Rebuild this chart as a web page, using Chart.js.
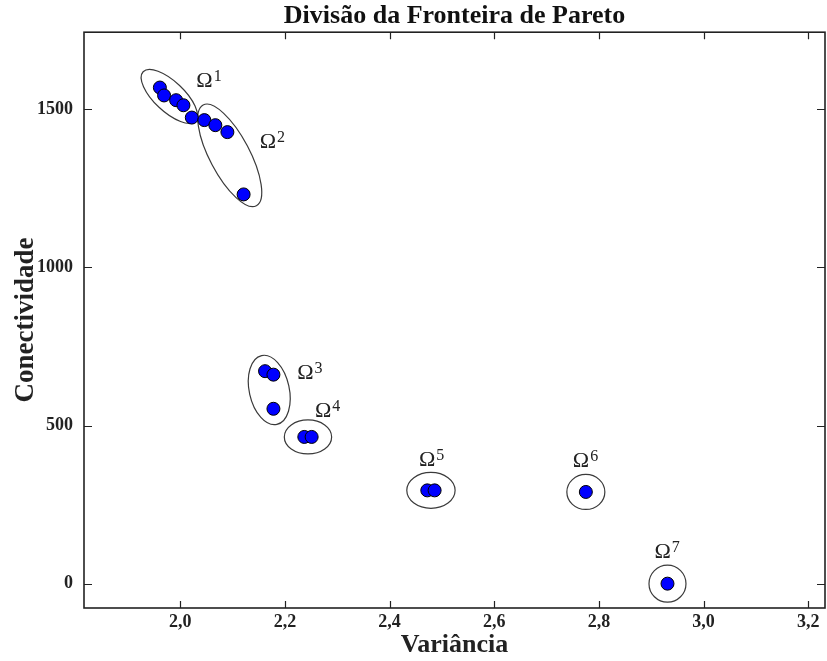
<!DOCTYPE html>
<html>
<head>
<meta charset="utf-8">
<script src="https://cdn.jsdelivr.net/npm/chart.js@4"></script>
<style>
  body { margin: 0; background: #fff; }
</style>
</head>
<body>
<canvas id="myChart" width="827" height="661"></canvas>
<script>
// dados
const variancia = [1.961, 1.969, 1.992, 2.006, 2.022, 2.046, 2.067, 2.090, 2.121,
                   2.162, 2.178, 2.178, 2.237, 2.251, 2.472, 2.486, 2.775, 2.931];
const conectividade = [1569, 1544, 1529, 1513, 1474, 1466, 1450, 1428, 1231,
                       672, 661, 553, 464, 464, 295, 295, 290, 0];
const xTicks = [2.0, 2.2, 2.4, 2.6, 2.8, 3.0, 3.2];
const yTicks = [0, 500, 1000, 1500];

// grupos da fronteira (índices dos pontos)
const grupos = ['1', '2', '3', '4', '5', '6', '7'];
const grupoPontos = [[0, 1, 2, 3, 4], [5, 6, 7, 8], [9, 10, 11], [12, 13], [14, 15], [16], [17]];

// estilo das elipses (pixels): folga no eixo maior, semi-eixo menor, deslocamentos, posição do rótulo
const elipseEstilo = [
    { pad: 14, b: 15, along: -9, side: 0, lx: 27, ly: -9 },
    { pad: 15, b: 20, along: 1, side: -6, lx: 30, ly: -7 },
    { pad: 16, b: 20, along: 0, side: 0, lx: 28, ly: -11 },
    { pad: 20, b: 17, along: 0, side: 0, lx: 7, ly: -20 },
    { pad: 20.5, b: 18, along: 0, side: 0, lx: -12, ly: -24 },
    { pad: 19, b: 17.5, along: 0, side: 0, lx: -13, ly: -25 },
    { pad: 18.5, b: 18.5, along: 0, side: 0, lx: -13, ly: -26 }
];

const fonte = '"Liberation Serif", "Times New Roman", serif';

const elipsesPlugin = {
    id: 'elipses',
    beforeDatasetsDraw(chart) {
        const { ctx, scales: { x, y } } = chart;
        ctx.save();
        grupoPontos.forEach((idx, g) => {
            const s = elipseEstilo[g];
            const i0 = idx[0], i1 = idx[idx.length - 1];
            const x0 = x.getPixelForValue(variancia[i0]), y0 = y.getPixelForValue(conectividade[i0]);
            const x1 = x.getPixelForValue(variancia[i1]), y1 = y.getPixelForValue(conectividade[i1]);
            const d = Math.hypot(x1 - x0, y1 - y0);
            const ang = d > 0 ? Math.atan2(y1 - y0, x1 - x0) : 0;
            const ux = Math.cos(ang), uy = Math.sin(ang);
            const cx = (x0 + x1) / 2 + s.along * ux - s.side * uy;
            const cy = (y0 + y1) / 2 + s.along * uy + s.side * ux;

            ctx.beginPath();
            ctx.ellipse(cx, cy, d / 2 + s.pad, s.b, ang, 0, Math.PI * 2);
            ctx.strokeStyle = '#3a3a3a';
            ctx.lineWidth = 1.2;
            ctx.stroke();

            ctx.fillStyle = '#222';
            ctx.textBaseline = 'alphabetic';
            ctx.textAlign = 'left';
            ctx.font = '22px ' + fonte;
            ctx.fillText('Ω', cx + s.lx, cy + s.ly);
            const w = ctx.measureText('Ω').width;
            ctx.font = '16px ' + fonte;
            ctx.fillText(grupos[g], cx + s.lx + w + 1, cy + s.ly - 6);
        });
        ctx.restore();
    }
};

// moldura com marcas para dentro nos quatro lados
const molduraPlugin = {
    id: 'moldura',
    afterDatasetsDraw(chart) {
        const { ctx, chartArea: a, scales: { x, y } } = chart;
        ctx.save();
        ctx.strokeStyle = '#222';
        ctx.lineWidth = 1.6;
        ctx.strokeRect(a.left, a.top, a.right - a.left, a.bottom - a.top);
        ctx.lineWidth = 1.2;
        ctx.beginPath();
        x.ticks.forEach(t => {
            const px = Math.round(x.getPixelForValue(t.value)) + 0.5;
            ctx.moveTo(px, a.bottom); ctx.lineTo(px, a.bottom - 7);
            ctx.moveTo(px, a.top); ctx.lineTo(px, a.top + 7);
        });
        y.ticks.forEach(t => {
            const py = Math.round(y.getPixelForValue(t.value)) + 0.5;
            ctx.moveTo(a.left, py); ctx.lineTo(a.left + 8, py);
            ctx.moveTo(a.right, py); ctx.lineTo(a.right - 8, py);
        });
        ctx.stroke();
        ctx.restore();
    }
};

const ctx = document.getElementById('myChart').getContext('2d');

new Chart(ctx, {
    type: 'scatter',
    data: {
        datasets: [{
            label: 'Fronteira de Pareto',
            data: variancia.map((v, i) => ({ x: v, y: conectividade[i] })),
            backgroundColor: '#0000ff',
            borderColor: '#000',
            borderWidth: 1,
            pointRadius: 6.5,
            pointHoverRadius: 6.5
        }]
    },
    options: {
        responsive: false,
        animation: false,
        layout: { autoPadding: false, padding: { left: 0, right: 2, top: 0, bottom: 0 } },
        plugins: {
            legend: { display: false },
            tooltip: { enabled: false },
            title: {
                display: true,
                fullSize: false,
                text: 'Divisão da Fronteira de Pareto',
                color: '#111',
                font: { family: fonte, size: 26, weight: 'bold' },
                padding: { top: 1, bottom: 0 }
            }
        },
        scales: {
            x: {
                type: 'linear',
                min: 1.816,
                max: 3.232,
                afterBuildTicks: ax => { ax.ticks = xTicks.map(v => ({ value: v })); },
                afterFit: ax => { ax.height = 53; ax.paddingLeft = 0; ax.paddingRight = 0; },
                grid: { display: false, drawTicks: false },
                border: { display: false },
                ticks: {
                    callback: v => v.toFixed(1).replace('.', ','),
                    color: '#222',
                    font: { family: fonte, size: 18, weight: 'bold' },
                    padding: 4,
                    maxRotation: 0,
                    autoSkip: false
                },
                title: {
                    display: true,
                    text: 'Variância',
                    color: '#222',
                    font: { family: fonte, size: 26, weight: 'bold' },
                    padding: { top: 0, bottom: 0 }
                }
            },
            y: {
                type: 'linear',
                min: -77,
                max: 1744,
                afterBuildTicks: ax => { ax.ticks = yTicks.map(v => ({ value: v })); },
                afterFit: ax => { ax.width = 84; ax.paddingTop = 0; ax.paddingBottom = 0; },
                grid: { display: false, drawTicks: false },
                border: { display: false },
                ticks: {
                    callback: v => String(v),
                    color: '#222',
                    font: { family: fonte, size: 18, weight: 'bold' },
                    padding: 11,
                    autoSkip: false
                },
                title: {
                    display: true,
                    text: 'Conectividade',
                    color: '#222',
                    font: { family: fonte, size: 27, weight: 'bold' },
                    padding: { top: 10, bottom: 0 }
                }
            }
        }
    },
    plugins: [elipsesPlugin, molduraPlugin]
});
</script>
</body>
</html>
